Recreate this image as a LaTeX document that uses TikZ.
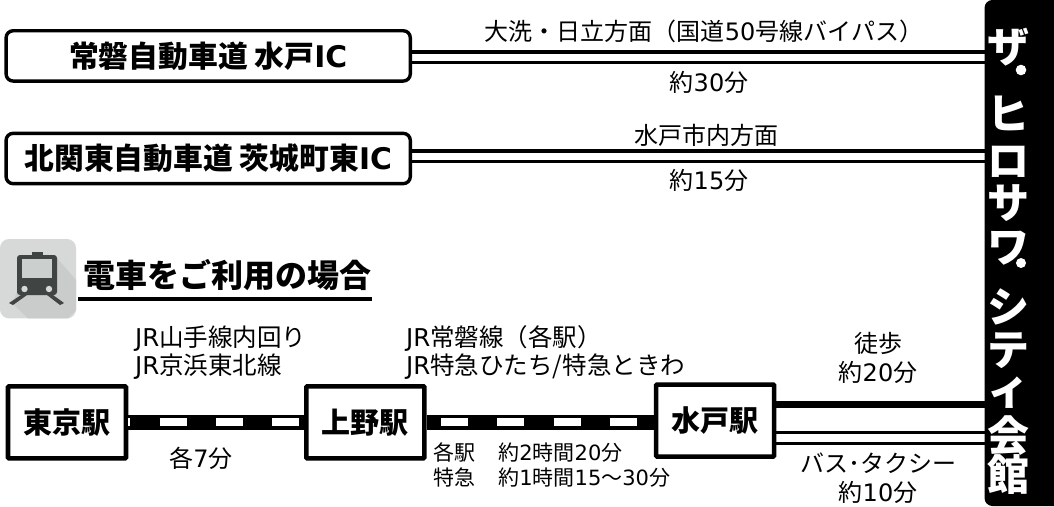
\documentclass[tikz,border=0pt]{standalone}
\usepackage{fontspec}
\setmainfont{Noto Sans CJK JP}
\newfontfamily\latn{DejaVu Sans}
\newfontfamily\latnb{DejaVu Sans Bold}
\definecolor{icongray}{HTML}{D6D9D7}
\definecolor{iconshade}{HTML}{C9CCCA}
\definecolor{icondark}{HTML}{404443}
\definecolor{iconglass}{HTML}{CBCFCD}
\newcommand{\Ln}[1]{{\latn #1}}
\newcommand{\Lb}[1]{{\latnb #1}}
\tikzset{
  icbox/.style={draw=black,line width=3.4pt,rounded corners=7pt,fill=white,minimum width=404.2pt,minimum height=50.3pt,inner sep=0pt,font=\fontsize{29.8}{30}\selectfont\bfseries},
  stbox/.style={draw=black,line width=4.6pt,rounded corners=1pt,fill=white,minimum width=118pt,minimum height=72pt,inner sep=0pt,font=\fontsize{29}{30}\selectfont\bfseries},
  roadline/.style={draw=black,line width=3.4pt},
  walkline/.style={draw=black,line width=7pt},
  railbase/.style={draw=black,line width=15pt},
  raildash/.style={draw=white,line width=8.8pt,dash pattern=on 27pt off 29.3pt},
  lab/.style={inner sep=0pt,font=\fontsize{24}{29}\selectfont,align=center},
  labl/.style={inner sep=0pt,font=\fontsize{24.5}{28}\selectfont,align=left,anchor=west},
  labs/.style={inner sep=0pt,font=\fontsize{21}{25}\selectfont,align=left,anchor=west},
  barch/.style={inner sep=0pt,text=white,font=\fontsize{42}{42}\selectfont\bfseries},
}
\begin{document}
\begin{tikzpicture}[x=1pt,y=-1pt]
\useasboundingbox (0,0) rectangle (1054,506);
\fill[white] (0,0) rectangle (1054,506);
% right bar
\fill[black] (1054,0) -- (992.5,0) .. controls (988,0) and (984.5,3.5) .. (984.5,8) -- (984.5,498) .. controls (984.5,502.5) and (988,506) .. (992.5,506) -- (1054,506) -- cycle;
\coordinate (barA1) at (985,52);
\coordinate (barA2) at (985,62.5);
\coordinate (barB1) at (985,151);
\coordinate (barB2) at (985,161.5);
\coordinate (barC) at (985,404.5);
\coordinate (barD1) at (985,432.5);
\coordinate (barE1) at (985,443.5);
\coordinate (railY) at (0,422);
% IC boxes
\node[icbox] (joban) at (208.2,55.9) {常磐自動車道 水戸\Lb{IC}};
\node[icbox] (kitakanto) at (208.2,158.5) {北関東自動車道 茨城町東\Lb{IC}};
% station boxes
\node[stbox] (tokyo) at (67,422.3) {東京駅};
\node[stbox] (ueno) at (365.3,422.3) {上野駅};
\node[stbox] (mito) at (715.1,420.6) {水戸駅};
% roads
\draw[roadline] (joban.east |- barA1) -- (barA1);
\draw[roadline] (joban.east |- barA2) -- (barA2);
\draw[roadline] (kitakanto.east |- barB1) -- (barB1);
\draw[roadline] (kitakanto.east |- barB2) -- (barB2);
% rail
\draw[railbase] (tokyo.east |- railY) -- (ueno.west |- railY);
\draw[raildash,dash phase=25pt] (tokyo.east |- railY) -- (ueno.west |- railY);
\draw[railbase] (ueno.east |- railY) -- (mito.west |- railY);
\draw[raildash,dash phase=41.9pt] (ueno.east |- railY) -- (mito.west |- railY);
% Mito lines
\draw[walkline] (mito.east |- barC) -- (barC);
\draw[roadline] (mito.east |- barD1) -- (barD1);
\draw[roadline] (mito.east |- barE1) -- (barE1);
% labels
\node[lab] (l1) at (704,31) {大洗・日立方面（国道\Ln{50}号線バイパス）};
\node[lab] (l2) at (709,82) {約\Ln{30}分};
\node[lab] (l3) at (706,135) {水戸市内方面};
\node[lab] (l4) at (709,180) {約\Ln{15}分};
\node[labl] (l5) at (135,352.5) {\Ln{JR}山手線内回り\\\Ln{JR}京浜東北線};
\node[labl] (l6) at (406,352.5) {\Ln{JR}常磐線（各駅）\\\Ln{JR}特急ひたち/特急ときわ};
\node[lab] (l7) at (201,458) {各\Ln{7}分};
\node[labs] (l8) at (433,464.5) {各駅\hspace{1.1em}約\Ln{2}時間\Ln{20}分\\特急\hspace{1.1em}約\Ln{1}時間\Ln{15}～\Ln{30}分};
\node[lab] (l9) at (878,358) {徒歩\\約\Ln{20}分};
\node[lab] (l10) at (878,478.5) {バス･タクシー\\約\Ln{10}分};
% header
\fill[icongray,rounded corners=9pt] (0,239) rectangle (76,318.4);
\fill[iconshade] (57,258) -- (76,280) -- (76,310) -- (68,318.4) -- (28,318.4) -- (12,303) -- (18,290) -- cycle;
\fill[icondark] (32,252) rectangle (43,258);
\fill[icondark,rounded corners=3pt] (17,255) rectangle (57,295);
\fill[iconglass] (22,258.5) rectangle (52,278);
\fill[icongray] (24.5,289) circle (3.2);
\fill[icongray] (49,289) circle (3.2);
\fill[icondark] (21,295) -- (27,295) -- (13,305) -- (9,303) -- cycle;
\fill[icondark] (47,295) -- (53,295) -- (64,303) -- (60,305) -- cycle;
\node[inner sep=0pt,anchor=west,font=\fontsize{32}{34}\selectfont\bfseries] (title) at (83,275) {電車をご利用の場合};
\coordinate (ulA) at (78,299);
\coordinate (ulB) at (372,299);
\draw[black,line width=3.4pt] (ulA) -- (ulB);
% bar text
\node[barch] (c1) at (1008,47) {ザ};
\fill[white] (1021,70) circle (5.3);
\node[barch] (c3) at (1008,113) {ヒ};
\node[barch] (c4) at (1008,162) {ロ};
\node[barch] (c5) at (1008,203) {サ};
\node[barch] (c6) at (1008,248) {ワ};
\fill[white] (1021,263) circle (5);
\node[barch] (c8) at (1008,307) {シ};
\node[barch] (c9) at (1008,351) {テ};
\node[barch] (c10) at (1008,393) {ィ};
\node[barch] (c11) at (1008,436) {会};
\node[barch] (c12) at (1008,475) {館};
\end{tikzpicture}
\end{document}
